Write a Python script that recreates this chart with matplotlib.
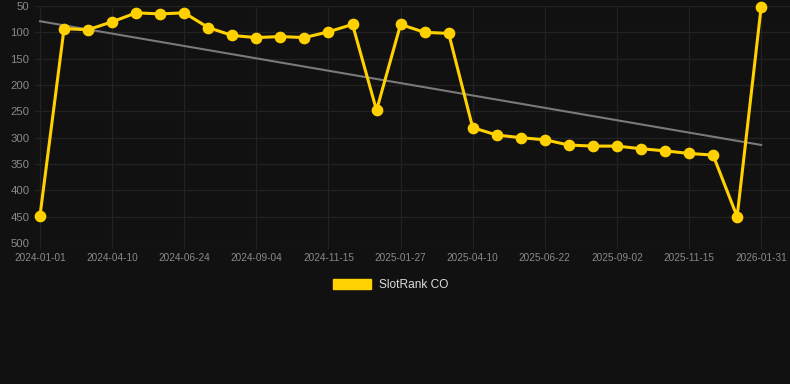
import numpy as np
import matplotlib
matplotlib.use('Agg')
import matplotlib.pyplot as plt
from matplotlib.patches import Patch

plt.rcParams['font.family'] = ['Liberation Sans', 'DejaVu Sans']

# data: rank per point (lower is better), 31 evenly spaced points
ranks = [448, 93, 95, 80, 63, 65, 63, 91, 106, 110, 108, 110, 99, 85, 248,
         85, 100, 102, 281, 295, 300, 304, 314, 316, 316, 321, 325, 330, 333,
         450, 52]
tick_labels = ['2024-01-01', '2024-04-10', '2024-06-24', '2024-09-04',
               '2024-11-15', '2025-01-27', '2025-04-10', '2025-06-22',
               '2025-09-02', '2025-11-15', '2026-01-31']
y_ticks = [50, 100, 150, 200, 250, 300, 350, 400, 450, 500]

bg = '#111111'
grid_c = '#222222'
gold = '#FFD100'

x = np.arange(len(ranks))
# trend line = least squares fit of the ranks
slope, icpt = np.polyfit(x, ranks, 1)
trend = slope * x + icpt

fig = plt.figure(figsize=(7.9, 3.84), dpi=100, facecolor=bg)
ax = fig.add_axes([35/790, 141/384, 755/790, 237/384], facecolor=bg)

ax.plot(x, trend, color='#7a7a7a', lw=1.5, zorder=2)
ax.plot(x, ranks, color=gold, lw=2.2, marker='o', ms=7.4,
        zorder=3, clip_on=False)

ax.set_ylim(500, 50)
ax.set_yticks(y_ticks)
ax.set_xlim(-0.208, 31.2)
ax.set_xticks(x[::3])
ax.set_xticklabels(tick_labels)

ax.grid(True, color=grid_c, lw=0.9)
for s in ax.spines.values():
    s.set_visible(False)
ax.tick_params(axis='y', length=0, pad=4, labelsize=8.2, labelcolor='#8a8a8a')
ax.tick_params(axis='x', length=4, color=grid_c, pad=3, labelsize=7.2,
               labelcolor='#8a8a8a')

handle = Patch(facecolor=gold, edgecolor=gold)
leg = fig.legend([handle], ['SlotRank CO'], loc='center',
                 bbox_to_anchor=(0.494, 0.258), frameon=False,
                 handlelength=3.25, handleheight=0.92, handletextpad=0.6,
                 prop={'size': 8.6})
for t in leg.get_texts():
    t.set_color('#dddddd')

fig.savefig('out.png', dpi=100, facecolor=bg)
